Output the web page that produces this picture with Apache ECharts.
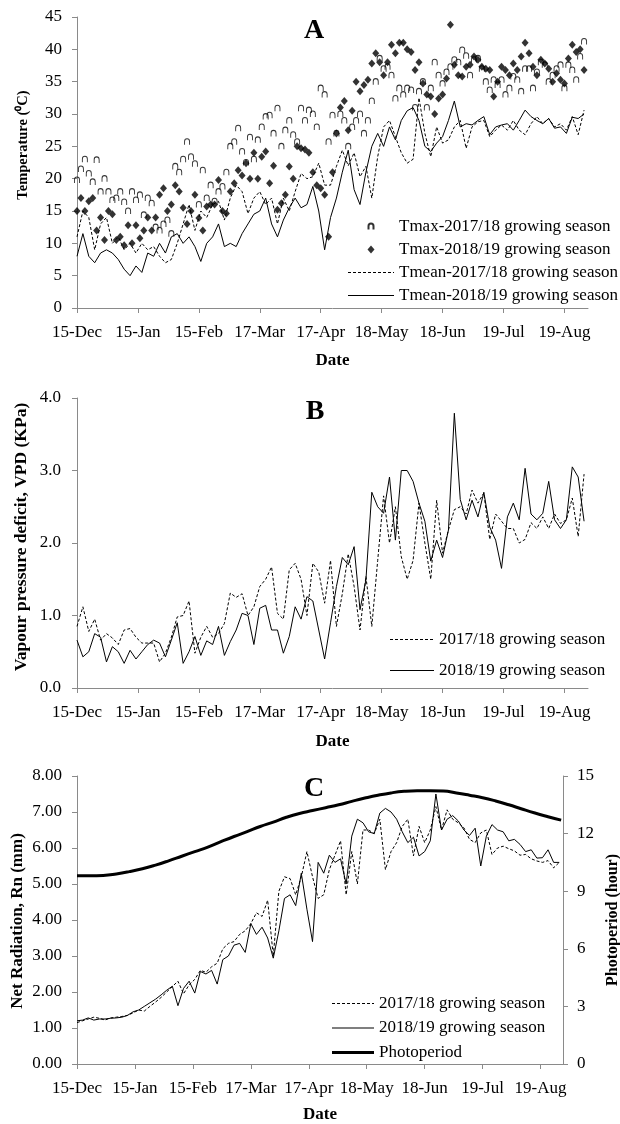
<!DOCTYPE html>
<html>
<head>
<meta charset="utf-8">
<script src="https://cdn.jsdelivr.net/npm/echarts@6/dist/echarts.min.js"></script>
<style>
  html, body { margin: 0; padding: 0; background: #fff; }
  #chart { width: 620px; height: 1124px; }
</style>
</head>
<body>
<div id="chart"></div>
<script>
// x positions are days since 15-Dec
const dateTicks = ["15-Dec", "15-Jan", "15-Feb", "17-Mar", "17-Apr", "18-May", "18-Jun", "19-Jul", "19-Aug"];

// Panel A - daily max temperature, read every 2 days
const tmax1718 = [
  19.8, 21.5, 23, 20.8, 19.5, 22.9, 18, 20, 18, 16.7,
  17, 18, 16.4, 15, 18, 16.7, 17.5, 14.4, 17, 16.2,
  12.5, 12, 13, 13.6, 11.5, 21.9, 21, 23, 25.7, 23.4,
  22.3, 16, 21.3, 17, 19, 16.5, 18, 18.8, 21, 25,
  25.7, 27.8, 24.2, 22.5, 26.4, 23, 26, 28, 29.6, 29.8,
  27, 30.9, 25, 27.5, 29, 26.8, 25.7, 30.9, 29, 30.6,
  30, 28, 34, 33, 25.7, 29.8, 27, 30, 29, 25,
  28, 29, 30, 27, 29, 32, 35, 38.6, 37, 37.3,
  36, 32.4, 34, 33, 34, 33.7, 31, 33.5, 35, 31,
  34, 38, 36, 34.7, 36.5, 37.3, 38.4, 38, 39.9, 39,
  36, 38.4, 38.6, 37, 35, 33.7, 35.3, 34.5, 35.3, 33,
  34, 35.8, 35.3, 33.5, 37, 37, 34, 36.5, 38, 37.6,
  35, 36, 37, 37.6, 34, 37.6, 36.8, 35.3, 38.9, 41.2
];
const tmax1819 = [
  15, 17, 15, 16.5, 17, 12, 14, 10.5, 15, 14.5,
  10.5, 11, 9.7, 12.8, 10, 12.8, 10.8, 12, 14, 12,
  14, 17.5, 18.5, 15, 16, 19, 18, 15.5, 13, 15,
  17.5, 13.9, 12, 15.7, 16, 16, 19.8, 15, 14.6, 18,
  19.3, 21.3, 20.5, 22.4, 20, 24, 20, 23.4, 24.2, 19.3,
  22, 15.2, 16.2, 17.5, 21.9, 20, 25, 24.7, 24.5, 24,
  21, 19, 18.5, 17.5, 11, 21, 27, 31, 32, 27.5,
  30.5, 35, 33.5, 34.5, 35.3, 37.8, 39.4, 38, 36, 38,
  40.7, 39.4, 41, 41, 40, 39.6, 36.8, 38, 34.7, 33,
  32.7, 30, 32.4, 33, 35.5, 43.8, 37.6, 36, 35.8, 37.3,
  37.6, 38.9, 38.4, 37.3, 37, 36.8, 32.7, 35, 37.3, 36.8,
  36, 37.8, 36.8, 38.9, 41, 39.4, 37.3, 36, 38.4, 37.8,
  37, 35, 36.3, 35.3, 34.7, 38.6, 40.7, 39.6, 40, 36.8
];

// Panel A - daily mean temperature, read every 3 days
const tmean1718 = [
  11, 15, 14, 9, 13, 14, 10, 11, 9, 10,
  8.5, 10, 9, 9.5, 8, 7, 7.5, 10, 13, 16,
  12, 15, 14, 16, 16.5, 13.6, 17, 19, 18, 14.6,
  17, 18, 16, 17, 13, 17, 15, 18, 20.8, 20,
  20.3, 22.4, 19, 19, 21.9, 24.4, 22, 24, 20.3, 21.9,
  17, 23.4, 28, 29, 26.5, 24, 22.4, 23, 32.5, 27,
  23.4, 28, 25.5, 26, 28, 29, 24.7, 28, 28.8, 29,
  26.5, 27.5, 28.3, 27.5, 29, 27.5, 26.8, 28.5, 29.6, 28.5,
  29.3, 28, 28.5, 27.5, 29.6, 26.8, 30.6
];
const tmean1819 = [
  8, 11.5, 8, 7, 8.5, 9, 8.5, 7.5, 6, 5,
  6.5, 5.5, 8.5, 8, 10, 8.5, 11, 11.5, 10, 11,
  9.5, 7.2, 10, 11, 13, 9.5, 10, 9.5, 11.5, 13,
  14.5, 15, 17, 13, 11, 13.6, 15.5, 17, 15.5, 16,
  18.8, 15, 9, 14, 17, 21, 24.4, 18.3, 16, 21,
  25, 27, 25, 28, 26, 29, 30.5, 31, 29, 25,
  24.2, 25.5, 26.5, 29, 32, 28, 28.5, 28.3, 29, 29.6,
  26.8, 28, 28.3, 28.5, 27.5, 29, 30.6, 29.6, 29, 28.5,
  29.3, 27.8, 28, 27, 29.5, 29.3, 30
];

// Panel B - vapour pressure deficit (kPa), every 3 days
const vpd1718 = [
  0.85, 1.12, 0.78, 0.95, 0.66, 0.75, 0.69, 0.6, 0.8, 0.82,
  0.7, 0.62, 0.62, 0.62, 0.36, 0.48, 0.7, 0.98, 1.0, 1.2,
  0.48, 0.7, 0.85, 0.7, 0.75, 0.89, 1.31, 1.25, 1.3, 1.0,
  1.12, 1.4, 1.5, 1.67, 1.03, 0.95, 1.63, 1.72, 1.5, 1.0,
  1.72, 1.6, 1.17, 1.76, 0.85, 1.3, 1.85, 1.4, 0.8, 1.54,
  0.85, 1.76, 2.65, 2.0, 2.5, 1.81, 1.5, 1.76, 2.55, 2.0,
  1.5, 2.59, 1.86, 2.18, 2.46, 2.5, 2.4, 2.73, 2.55, 2.69,
  2.05, 2.4, 2.3, 2.2, 2.2, 2.0, 2.05, 2.28, 2.2, 2.36,
  2.2, 2.4, 2.27, 2.32, 2.62, 2.09, 2.95
];
const vpd1819 = [
  0.66, 0.43, 0.5, 0.75, 0.7, 0.36, 0.57, 0.5, 0.34, 0.52,
  0.4, 0.5, 0.6, 0.66, 0.62, 0.43, 0.66, 0.9, 0.34, 0.5,
  0.71, 0.45, 0.65, 0.6, 0.85, 0.45, 0.64, 0.8, 1.03, 1.0,
  0.6, 1.1, 1.14, 0.8, 0.8, 0.48, 0.71, 1.12, 0.95, 1.26,
  1.2, 0.8, 0.4, 0.9, 1.4, 1.8, 1.7, 1.95, 1.08, 1.49,
  2.7, 2.5, 2.41, 2.91, 2.04, 3.0, 3.0, 2.85, 2.55, 2.3,
  1.75, 2.04, 1.8, 2.18, 3.79, 2.6, 2.32, 2.59, 2.36, 2.7,
  2.22, 2.04, 1.65, 2.36, 2.55, 2.32, 3.03, 2.4, 2.32, 2.41,
  2.85, 2.32, 2.2, 2.32, 3.05, 2.91, 2.3
];

// Panel C - net radiation (mm), every 3 days
const rn1718 = [
  1.15, 1.2, 1.25, 1.3, 1.27, 1.22, 1.28, 1.3, 1.32, 1.35,
  1.42, 1.5, 1.47, 1.6, 1.72, 1.85, 2.0, 2.15, 2.3, 1.95,
  2.2, 2.35, 2.6, 2.55, 2.7, 2.8, 3.2, 3.35, 3.4, 3.6,
  3.7, 3.9, 4.2, 4.1, 4.55, 3.0, 4.8, 5.2, 5.15, 4.7,
  5.2, 5.9, 5.2, 4.6, 4.7, 5.4, 5.8, 6.2, 4.7, 5.9,
  5.0, 6.5, 6.5, 6.4, 6.8, 5.4, 5.9, 6.15, 6.6, 6.8,
  5.78, 6.6, 6.15, 6.5, 7.15, 6.5, 7.06, 6.8, 6.7, 6.56,
  6.24, 6.15, 6.42, 6.5, 5.82, 6.0, 6.05, 5.98, 5.92, 5.8,
  5.82, 5.7, 5.64, 5.6, 5.65, 5.45, 5.6
];
const rn1819 = [
  1.2, 1.22, 1.28, 1.22, 1.25, 1.25, 1.27, 1.28, 1.3, 1.35,
  1.45, 1.5, 1.6, 1.7, 1.8, 1.92, 2.05, 2.16, 1.62, 2.1,
  2.3, 1.97, 2.57, 2.5, 2.6, 2.22, 2.9, 3.0, 3.3, 3.35,
  3.1, 3.9, 3.6, 3.8, 3.5, 2.94, 3.7, 4.6, 4.7, 4.4,
  5.3, 4.3, 3.4, 5.6, 5.3, 5.8, 5.6, 5.7, 5.0, 6.33,
  6.8, 6.7, 6.45, 6.4, 6.97, 7.1, 7.0, 6.8, 6.45, 6.15,
  6.3, 5.78, 5.9, 6.2, 7.5, 6.5, 6.8, 6.9, 6.75, 6.5,
  6.35, 6.55, 5.5, 6.33, 6.65, 6.5, 6.45, 6.2, 6.24, 6.1,
  5.9, 5.95, 5.72, 5.73, 5.95, 5.6, 5.6
];

// Panel C - photoperiod (hours), every 7 days
const photoperiod = [
  9.8, 9.8, 9.82, 9.9, 10.02, 10.17, 10.36, 10.58, 10.82, 11.06,
  11.3, 11.58, 11.85, 12.1, 12.37, 12.6, 12.85, 13.05, 13.2, 13.35,
  13.5, 13.68, 13.85, 14.0, 14.12, 14.2, 14.23, 14.23, 14.22, 14.12,
  14.0, 13.87, 13.7, 13.5, 13.28, 13.07, 12.88, 12.7
];

const SERIF = "'Liberation Serif', 'Times New Roman', serif";
const GREY = "#8a8a8a";
const DASH = [3, 2];
const tickDays = dateTicks.map((_, i) => i * 31);

function byDay(values, step) {
  return values.map((v, i) => [i * step, v]);
}

// legend swatch drawn as filled path (keeps dash look without the default circle)
function lineIcon(w, kind) {
  let p = "path://M0,0 M" + w + ",14 ";
  if (kind === "dash") {
    for (let x = 0; x < w; x += 5) p += "M" + x + ",6.5 h" + Math.min(3, w - x) + " v1 h-" + Math.min(3, w - x) + " Z ";
  } else if (kind === "thick") {
    p += "M0,5.5 h" + w + " v3 h-" + w + " Z";
  } else {
    p += "M0,6.5 h" + w + " v1 h-" + w + " Z";
  }
  return p;
}

function dateAxis(gridIndex, nameGap) {
  return {
    type: "value", gridIndex: gridIndex, min: 0, max: 260,
    name: "Date", nameLocation: "middle", nameGap: nameGap,
    nameTextStyle: { fontFamily: SERIF, fontWeight: "bold", fontSize: 17, color: "#000" },
    axisLine: { onZero: false, lineStyle: { color: GREY } },
    axisTick: { length: 5, customValues: tickDays, lineStyle: { color: GREY } },
    axisLabel: {
      customValues: tickDays, margin: 16,
      fontFamily: SERIF, fontSize: 17, color: "#000",
      formatter: v => dateTicks[tickDays.indexOf(v)] || ""
    },
    splitLine: { show: false }
  };
}

function valAxis(gridIndex, max, interval, digits, margin, position) {
  return {
    type: "value", gridIndex: gridIndex, min: 0, max: max, interval: interval,
    position: position || "left",
    axisLine: { show: true, onZero: false, lineStyle: { color: GREY } },
    axisTick: { show: true, length: 5, lineStyle: { color: GREY } },
    axisLabel: {
      margin: margin, fontFamily: SERIF, fontSize: 17, color: "#000",
      formatter: v => v.toFixed(digits)
    },
    splitLine: { show: false }
  };
}

function line(name, values, step, xi, yi, dashed, width) {
  return {
    type: "line", name: name, xAxisIndex: xi, yAxisIndex: yi,
    data: byDay(values, step), symbol: "none", showSymbol: false,
    lineStyle: { color: "#000", width: width || 1, type: dashed ? DASH : "solid" },
    itemStyle: { color: "#000" },
    emphasis: { disabled: true }
  };
}

const archSymbol = "path://M0,10 L0,4 A5,5 0 0 1 10,4 L10,10";
const archIcon = "path://M0,0 M46,14 M20.5,10 L20.5,6.5 A2.5,2.5 0 0 1 25.5,6.5 L25.5,10";
const diamondIcon = "path://M0,0 M46,14 M23,3 L26.5,7 L23,11 L19.5,7 Z";

const legendText = { fontFamily: SERIF, fontSize: 17, color: "#000" };

const option = {
  animation: false,
  backgroundColor: "#fff",
  grid: [
    { left: 77, right: 32, top: 17, height: 291 },
    { left: 77, right: 32, top: 398, height: 290 },
    { left: 77, right: 57, top: 776, height: 291 }
  ],
  xAxis: [dateAxis(0, 44), dateAxis(1, 45), dateAxis(2, 42)],
  yAxis: [
    valAxis(0, 45, 5, 0, 15),
    valAxis(1, 4, 1, 1, 16),
    valAxis(2, 8, 1, 2, 15),
    valAxis(2, 15, 3, 0, 14, "right")
  ],
  legend: [
    {
      orient: "vertical", left: 347, top: 218, padding: 0, itemGap: 6,
      itemWidth: 46, itemHeight: 14, selectedMode: false, textStyle: legendText,
      data: [
        { name: "Tmax-2017/18 growing season", icon: archIcon },
        { name: "Tmax-2018/19 growing season", icon: diamondIcon },
        { name: "Tmean-2017/18 growing season", icon: lineIcon(46, "dash") },
        { name: "Tmean-2018/19 growing season", icon: lineIcon(46, "solid") }
      ]
    },
    {
      orient: "vertical", left: 390, top: 631, padding: 0, itemGap: 14,
      itemWidth: 44, itemHeight: 14, selectedMode: false, textStyle: legendText,
      data: [
        { name: "2017/18 growing season", icon: lineIcon(44, "dash") },
        { name: "2018/19 growing season", icon: lineIcon(44, "solid") }
      ]
    },
    {
      orient: "vertical", left: 332, top: 995, padding: 0, itemGap: 7.5,
      itemWidth: 42, itemHeight: 14, selectedMode: false, textStyle: legendText,
      data: [
        { name: "2017/18 growing season", icon: lineIcon(42, "dash") },
        { name: "2018/19 growing season", icon: lineIcon(42, "solid") },
        { name: "Photoperiod", icon: lineIcon(42, "thick") }
      ]
    }
  ],
  graphic: [
    { type: "text", x: 314, y: 31, style: { text: "A", font: "bold 28px " + SERIF, fill: "#000", align: "center", verticalAlign: "middle" } },
    { type: "text", x: 315, y: 412, style: { text: "B", font: "bold 28px " + SERIF, fill: "#000", align: "center", verticalAlign: "middle" } },
    { type: "text", x: 314, y: 789, style: { text: "C", font: "bold 28px " + SERIF, fill: "#000", align: "center", verticalAlign: "middle" } },
    { type: "text", x: 23, y: 145, rotation: Math.PI / 2, style: { text: "Temperature (\u2070C)", font: "bold 14.5px " + SERIF, fill: "#000", align: "center", verticalAlign: "middle" } },
    { type: "text", x: 21, y: 537, rotation: Math.PI / 2, style: { text: "Vapour pressure deficit, VPD (KPa)", font: "bold 17.5px " + SERIF, fill: "#000", align: "center", verticalAlign: "middle" } },
    { type: "text", x: 18, y: 921, rotation: Math.PI / 2, style: { text: "Net Radiation, Rn (mm)", font: "bold 17px " + SERIF, fill: "#000", align: "center", verticalAlign: "middle" } },
    { type: "text", x: 613, y: 920, rotation: Math.PI / 2, style: { text: "Photoperiod (hour)", font: "bold 16px " + SERIF, fill: "#000", align: "center", verticalAlign: "middle" } }
  ],
  series: [
    line("Tmean-2017/18 growing season", tmean1718, 3, 0, 0, true),
    line("Tmean-2018/19 growing season", tmean1819, 3, 0, 0, false),
    {
      type: "scatter", name: "Tmax-2017/18 growing season", xAxisIndex: 0, yAxisIndex: 0,
      data: byDay(tmax1718, 2), symbol: archSymbol, symbolSize: [5, 6],
      itemStyle: { color: "rgba(0,0,0,0)", borderColor: "#000", borderWidth: 1 },
      emphasis: { disabled: true }
    },
    {
      type: "scatter", name: "Tmax-2018/19 growing season", xAxisIndex: 0, yAxisIndex: 0,
      data: byDay(tmax1819, 2), symbol: "diamond", symbolSize: [7, 8],
      itemStyle: { color: "#000" },
      emphasis: { disabled: true }
    },
    line("2017/18 growing season", vpd1718, 3, 1, 1, true),
    line("2018/19 growing season", vpd1819, 3, 1, 1, false),
    line("2017/18 growing season", rn1718, 3, 2, 2, true),
    line("2018/19 growing season", rn1819, 3, 2, 2, false),
    Object.assign(line("Photoperiod", photoperiod, 7, 2, 3, false, 3), { smooth: true })
  ]
};

const chart = echarts.init(document.getElementById("chart"));
chart.setOption(option);
</script>
</body>
</html>
